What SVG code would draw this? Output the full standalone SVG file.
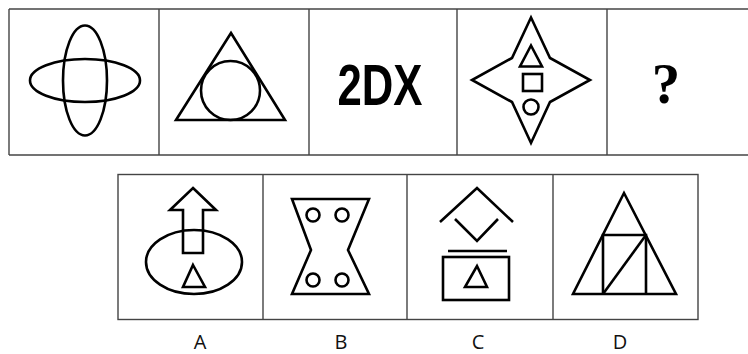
<svg xmlns="http://www.w3.org/2000/svg" width="748" height="354" viewBox="0 0 748 354">
<style>
.grid{fill:none;stroke:#444;stroke-width:1.4}
.s{fill:none;stroke:#000;stroke-width:2.6;stroke-linejoin:miter}
.lbl{font-family:"Open Sans","Liberation Sans",sans-serif;font-size:20px;fill:#111;text-anchor:middle}
</style>
<rect width="748" height="354" fill="#fff"/>
<g id="top-grid">
<line class="grid" x1="9" y1="9" x2="748" y2="9"/>
<line class="grid" x1="9" y1="155" x2="748" y2="155"/>
<line class="grid" x1="9" y1="9" x2="9" y2="155"/>
<line class="grid" x1="159" y1="9" x2="159" y2="155"/>
<line class="grid" x1="309" y1="9" x2="309" y2="155"/>
<line class="grid" x1="457" y1="9" x2="457" y2="155"/>
<line class="grid" x1="607" y1="9" x2="607" y2="155"/>
</g>
<g id="cell1">
<ellipse class="s" cx="85" cy="80.5" rx="22" ry="55"/>
<ellipse class="s" cx="85" cy="80.5" rx="55" ry="21.5"/>
</g>
<g id="cell2">
<polygon class="s" points="231,33 285,120 176,120"/>
<circle class="s" cx="230.5" cy="90.5" r="29.5"/>
</g>
<g id="cell3">
<text x="380" y="105" text-anchor="middle" textLength="85" lengthAdjust="spacingAndGlyphs" font-family="Liberation Sans,Arial,sans-serif" font-weight="bold" font-size="58" fill="#000">2DX</text>
</g>
<g id="cell4">
<polygon class="s" points="531,17.5 550,58 590,80 550,102 531,143 512,102 472,80 512,58"/>
<polygon class="s" points="531,45.5 542,66.5 520,66.5"/>
<rect class="s" x="523" y="74" width="19" height="17"/>
<circle class="s" cx="531" cy="107" r="7.5"/>
</g>
<g id="cell5">
<text x="666" y="102.5" text-anchor="middle" font-family="Liberation Serif,Times New Roman,serif" font-weight="bold" font-size="57" fill="#000">?</text>
</g>
<g id="bottom-grid">
<rect class="grid" x="118" y="174.5" width="580" height="145"/>
<line class="grid" x1="263" y1="174.5" x2="263" y2="319.5"/>
<line class="grid" x1="407" y1="174.5" x2="407" y2="319.5"/>
<line class="grid" x1="553" y1="174.5" x2="553" y2="319.5"/>
</g>
<g id="optionA">
<ellipse class="s" cx="194" cy="262" rx="48" ry="32"/>
<polygon class="s" points="193,188 216,210 203,210 203,253 183,253 183,210 170,210"/>
<polygon class="s" points="193,265 205,287 183,287"/>
</g>
<g id="optionB">
<polygon class="s" points="292,199 369,199 348,250 369,294 292,294 311,250"/>
<circle class="s" cx="313" cy="215" r="6.5"/>
<circle class="s" cx="342" cy="215" r="6.5"/>
<circle class="s" cx="313" cy="280" r="6.5"/>
<circle class="s" cx="342" cy="280" r="6.5"/>
</g>
<g id="optionC">
<polyline class="s" points="440,222 477,188 513,222"/>
<polyline class="s" points="455,219 477,241 498,219"/>
<line class="s" x1="448" y1="251" x2="507" y2="251"/>
<rect class="s" x="443" y="257" width="66" height="43"/>
<polygon class="s" points="477,266 487,287 465,287"/>
</g>
<g id="optionD">
<polygon class="s" points="624,193 676,294 573,294"/>
<polyline class="s" points="603,294 603,235 646,235 646,294"/>
<line class="s" x1="603" y1="294" x2="646" y2="235"/>
</g>
<g id="labels">
<text class="lbl" x="200" y="349">A</text>
<text class="lbl" x="341" y="349">B</text>
<text class="lbl" x="478" y="349">C</text>
<text class="lbl" x="620" y="349">D</text>
</g>
</svg>
